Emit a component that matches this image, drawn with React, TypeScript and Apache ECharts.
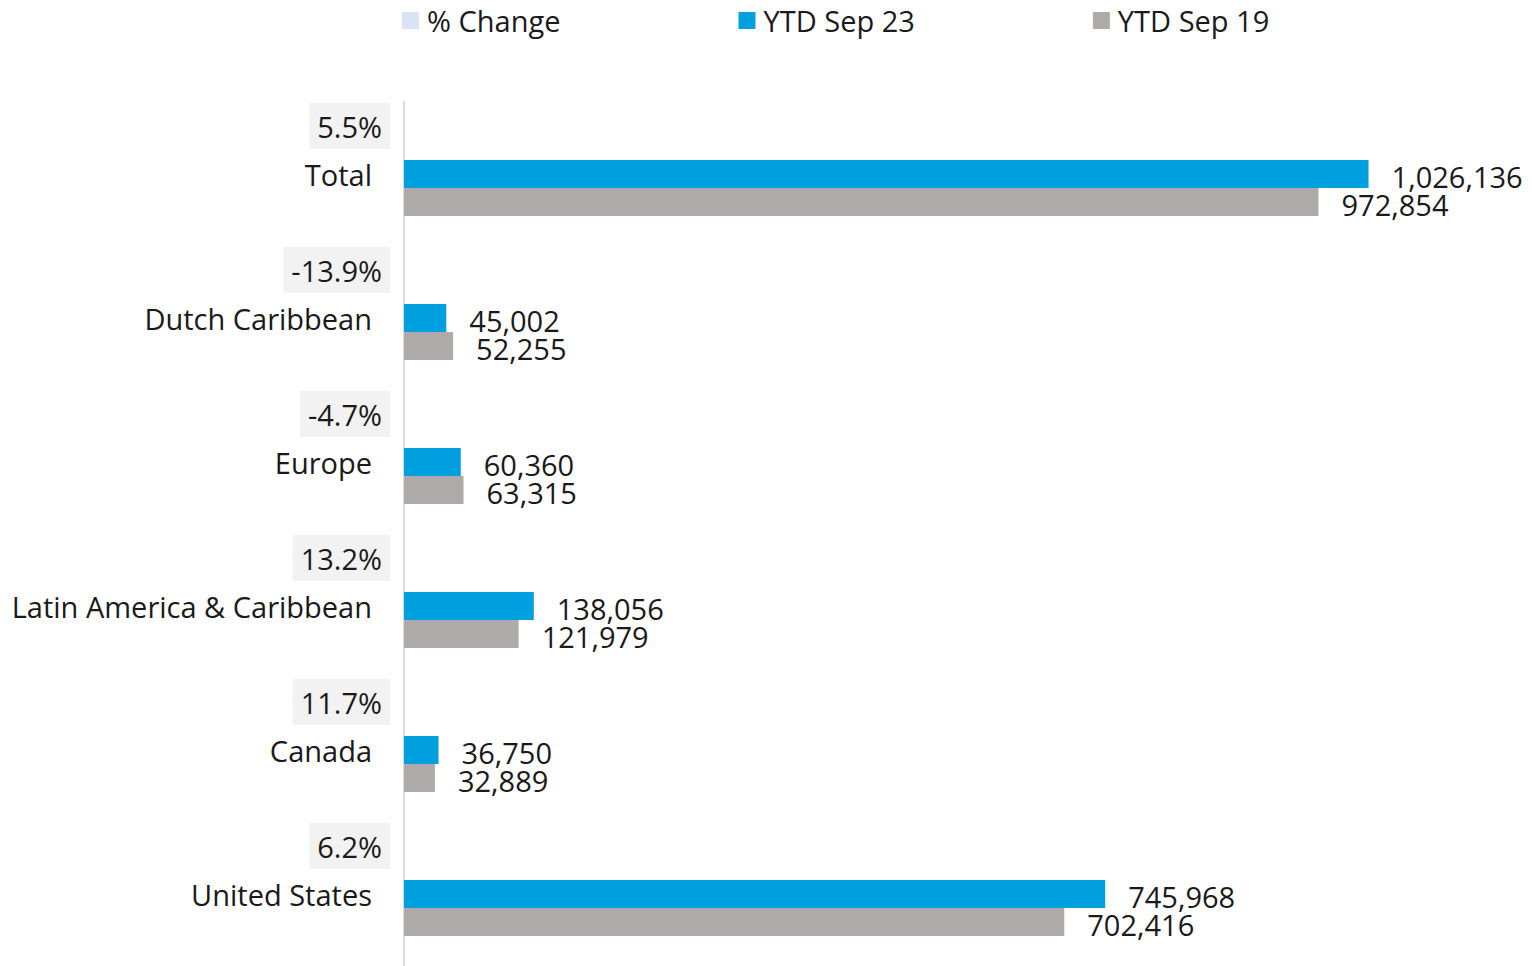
import React, { useEffect, useRef } from "react";
import * as echarts from "echarts";

const categories = ["Total", "Dutch Caribbean", "Europe", "Latin America & Caribbean", "Canada", "United States"];
const ytdSep23 = [1026136, 45002, 60360, 138056, 36750, 745968];
const ytdSep19 = [972854, 52255, 63315, 121979, 32889, 702416];
const pctChange = [5.5, -13.9, -4.7, 13.2, 11.7, 6.2];
const seriesNames = ["% Change", "YTD Sep 23", "YTD Sep 19"];

const FONT = "'Open Sans', 'Noto Sans', sans-serif";
const FS = 29;
const fmt = (v: number) => v.toLocaleString("en-US");

export default function App() {
  const ref = useRef<HTMLDivElement>(null);
  useEffect(() => {
    document.body.style.margin = "0";
    const chart = echarts.init(ref.current!, null, { renderer: "svg" });
    const valueLabel = {
      show: true,
      position: "right",
      distance: 23,
      offset: [0, 2],
      fontSize: FS,
      lineHeight: 28,
      color: "#1a1a1a",
      fontFamily: FONT,
      formatter: (p: any) => fmt(p.value),
    };
    chart.setOption({
      animation: false,
      textStyle: { fontFamily: FONT },
      legend: {
        left: 397,
        top: 1,
        itemWidth: 17,
        itemHeight: 17,
        itemGap: 178,
        icon: "rect",
        textStyle: { fontSize: FS, color: "#1a1a1a", fontFamily: FONT, padding: [0, 0, 0, 3] },
        data: seriesNames,
      },
      grid: { left: 404, top: 102, width: 1138, height: 870, containLabel: false },
      xAxis: {
        type: "value",
        min: 0,
        max: 1200000,
        show: false,
      },
      yAxis: {
        type: "category",
        inverse: true,
        data: categories,
        axisLine: { show: true, lineStyle: { color: "#D9D9D9", width: 2 } },
        axisTick: { show: false },
        axisLabel: { fontSize: FS, color: "#1a1a1a", margin: 32, fontFamily: FONT },
      },
      series: [
        {
          name: seriesNames[0],
          type: "bar",
          barWidth: 28,
          barGap: "0%",
          itemStyle: { color: "#DAE3F3" },
          data: pctChange.map(() => 0),
          label: {
            show: true,
            position: "left",
            distance: 14,
            offset: [0, -20],
            fontSize: FS,
            color: "#1a1a1a",
            fontFamily: FONT,
            backgroundColor: "#F2F2F2",
            padding: [9, 8, 8, 8],
            formatter: (p: any) => pctChange[p.dataIndex].toFixed(1) + "%",
          },
        },
        {
          name: seriesNames[1],
          type: "bar",
          barWidth: 28,
          barGap: "0%",
          itemStyle: { color: "#009FDF" },
          data: ytdSep23,
          label: valueLabel,
        },
        {
          name: seriesNames[2],
          type: "bar",
          barWidth: 28,
          barGap: "0%",
          itemStyle: { color: "#AEAAAA" },
          data: ytdSep19,
          label: valueLabel,
        },
      ],
    });
    return () => chart.dispose();
  }, []);
  return <div ref={ref} style={{ width: 1532, height: 966 }} />;
}
